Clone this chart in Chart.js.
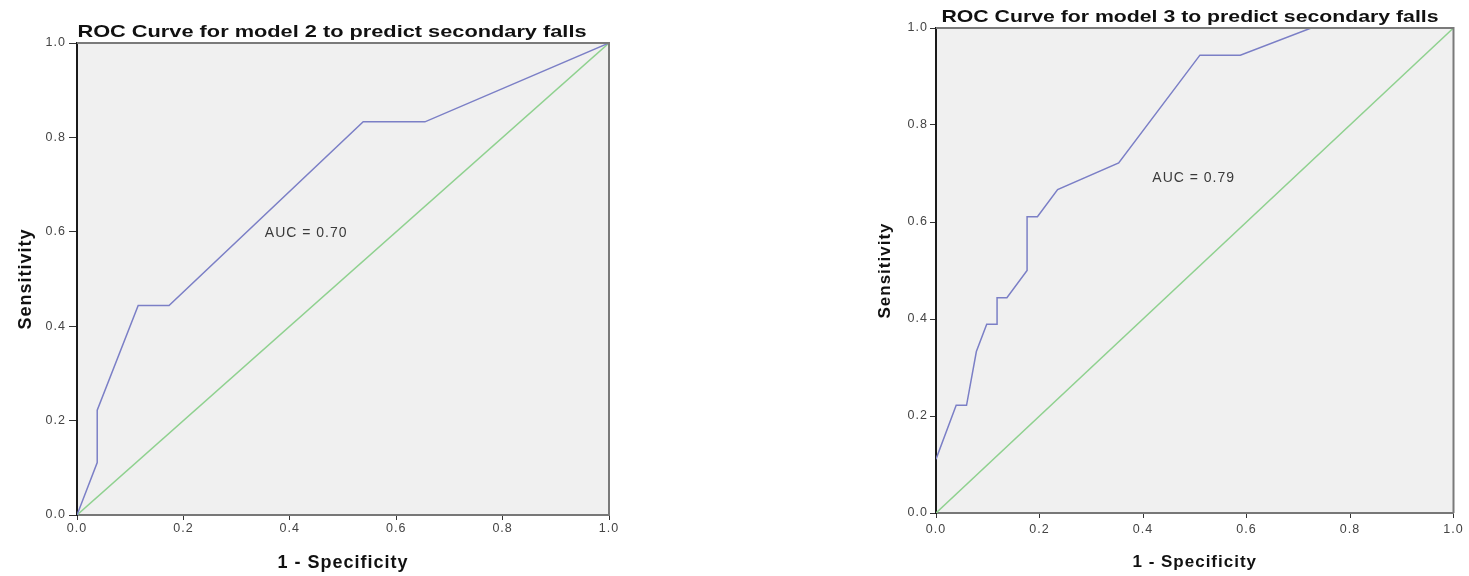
<!DOCTYPE html>
<html>
<head>
<meta charset="utf-8">
<script src="https://cdn.jsdelivr.net/npm/chart.js@4.4.1/dist/chart.umd.min.js"></script>
<style>
  html, body { margin: 0; padding: 0; background: #fff; }
  body { width: 1469px; height: 576px; position: relative; overflow: hidden; }
  canvas { position: absolute; top: 0; }
  #chart2 { left: 0; }
  #chart3 { left: 862px; }
</style>
</head>
<body>
<canvas id="chart2" width="640" height="576"></canvas>
<canvas id="chart3" width="607" height="576"></canvas>
<script>
// ROC points: x = 1 - specificity, y = sensitivity
const fprModel2 = [0, 0.038, 0.038, 0.115, 0.173, 0.538, 0.654, 1];
const tprModel2 = [0, 0.111, 0.222, 0.444, 0.444, 0.833, 0.833, 1];

const fprModel3 = [0, 0.039, 0.059, 0.078, 0.098, 0.118, 0.118, 0.137, 0.176, 0.176, 0.196, 0.235, 0.353, 0.510, 0.588, 0.725, 1];
const tprModel3 = [0.111, 0.222, 0.222, 0.333, 0.389, 0.389, 0.444, 0.444, 0.500, 0.611, 0.611, 0.667, 0.722, 0.944, 0.944, 1, 1];

// chance line
const refLine = [0, 1];

const tickValues = [0, 0.2, 0.4, 0.6, 0.8, 1.0];
const chartTitles = ['ROC Curve for model 2 to predict secondary falls', 'ROC Curve for model 3 to predict secondary falls'];
const aucLabels = ['AUC = 0.70', 'AUC = 0.79'];
const xAxisTitle = '1 - Specificity';
const yAxisTitle = 'Sensitivity';

const FONT = '"Liberation Sans", Arial, sans-serif';

// grey plot background + grey top/right frame, 1px letter spacing for axis text
const plotFrame = {
    id: 'plotFrame',
    beforeDraw(chart) {
        const { ctx, chartArea: { left, top, right, bottom } } = chart;
        ctx.save();
        ctx.fillStyle = '#f0f0f0';
        ctx.fillRect(left, top, right - left, bottom - top);
        ctx.restore();
        ctx.letterSpacing = '1px';
    },
    afterDatasetsDraw(chart) {
        const { ctx, chartArea: { left, top, right, bottom } } = chart;
        ctx.save();
        ctx.strokeStyle = '#7a7a7a';
        ctx.lineWidth = 2;
        ctx.beginPath();
        ctx.moveTo(left, top);
        ctx.lineTo(right, top);
        ctx.lineTo(right, bottom);
        ctx.stroke();
        ctx.restore();
    }
};

// title (stretched like the original export) and the AUC note
const rocText = {
    id: 'rocText',
    afterDraw(chart, args, opts) {
        const { ctx, scales: { x, y } } = chart;
        ctx.save();
        ctx.letterSpacing = '0px';
        ctx.fillStyle = '#111';
        ctx.font = 'bold 17px ' + FONT;
        ctx.textAlign = 'center';
        ctx.textBaseline = 'alphabetic';
        ctx.translate(opts.titleX, opts.titleY);
        ctx.scale(opts.stretch, 1);
        ctx.fillText(opts.title, 0, 0);
        ctx.restore();

        ctx.save();
        ctx.letterSpacing = '1px';
        ctx.fillStyle = '#3a3a3a';
        ctx.font = '14px ' + FONT;
        ctx.textAlign = 'left';
        ctx.textBaseline = 'middle';
        ctx.fillText(opts.auc, x.getPixelForValue(opts.aucAt[0]), y.getPixelForValue(opts.aucAt[1]));
        ctx.restore();
    }
};

function toPoints(xs, ys) {
    return xs.map((v, i) => ({ x: v, y: ys[i] }));
}

function makeRoc(id, fpr, tpr, idx, lay) {
    return new Chart(document.getElementById(id), {
        type: 'scatter',
        data: {
            datasets: [
                {
                    data: toPoints(fpr, tpr),
                    showLine: true,
                    borderColor: '#7b7fc6',
                    borderWidth: 1.5,
                    pointRadius: 0,
                    tension: 0
                },
                {
                    data: toPoints(refLine, refLine),
                    showLine: true,
                    borderColor: '#8fd18f',
                    borderWidth: 1.5,
                    pointRadius: 0
                }
            ]
        },
        options: {
            responsive: false,
            animation: false,
            devicePixelRatio: 1,
            layout: { padding: { left: 0, right: lay.padRight, top: lay.top, bottom: 0 } },
            plugins: {
                legend: { display: false },
                title: { display: false },
                tooltip: { enabled: false },
                rocText: {
                    title: chartTitles[idx],
                    auc: aucLabels[idx],
                    aucAt: lay.aucAt,
                    titleX: lay.titleX,
                    titleY: lay.titleY,
                    stretch: lay.stretch
                }
            },
            scales: {
                x: {
                    type: 'linear',
                    min: 0,
                    max: 1,
                    afterBuildTicks: s => { s.ticks = tickValues.map(v => ({ value: v })); },
                    afterFit: s => { s.height = lay.xHeight; },
                    grid: { drawOnChartArea: false, tickLength: 5, tickColor: '#333', tickWidth: 1 },
                    border: { color: '#777', width: 2 },
                    ticks: {
                        callback: v => v.toFixed(1),
                        color: '#444',
                        padding: lay.xTickPad,
                        maxRotation: 0,
                        font: { family: FONT, size: 12.5 }
                    },
                    title: {
                        display: true,
                        text: xAxisTitle,
                        color: '#111',
                        font: { family: FONT, size: lay.axisFont, weight: 'bold', lineHeight: 1.2 },
                        padding: { top: 0, bottom: lay.xTitlePad }
                    }
                },
                y: {
                    type: 'linear',
                    min: 0,
                    max: 1,
                    afterBuildTicks: s => { s.ticks = tickValues.map(v => ({ value: v })); },
                    afterFit: s => { s.width = lay.yWidth; },
                    grid: { drawOnChartArea: false, tickLength: lay.yTick, tickColor: '#333', tickWidth: 1 },
                    border: { color: '#1a1a1a', width: 2 },
                    ticks: {
                        callback: v => v.toFixed(1),
                        color: '#444',
                        padding: lay.yTickPad,
                        font: { family: FONT, size: 12.5 }
                    },
                    title: {
                        display: true,
                        text: yAxisTitle,
                        color: '#111',
                        font: { family: FONT, size: lay.axisFont, weight: 'bold', lineHeight: 1.2 },
                        padding: { top: lay.yTitlePad, bottom: 0 }
                    }
                }
            }
        },
        plugins: [plotFrame, rocText]
    });
}

makeRoc('chart2', fprModel2, tprModel2, 0, {
    padRight: 31, top: 43, xHeight: 61, yWidth: 77,
    xTickPad: 1, yTick: 8, yTickPad: 3,
    axisFont: 18, xTitlePad: 2, yTitlePad: 15,
    titleX: 332, titleY: 37, stretch: 1.28,
    aucAt: [0.353, 0.597]
});

makeRoc('chart3', fprModel3, tprModel3, 1, {
    padRight: 15.5, top: 28, xHeight: 63, yWidth: 74,
    xTickPad: 4, yTick: 6, yTickPad: 2,
    axisFont: 17, xTitlePad: 3, yTitlePad: 13,
    titleX: 328, titleY: 22, stretch: 1.25,
    aucAt: [0.418, 0.69]
});
</script>
</body>
</html>
